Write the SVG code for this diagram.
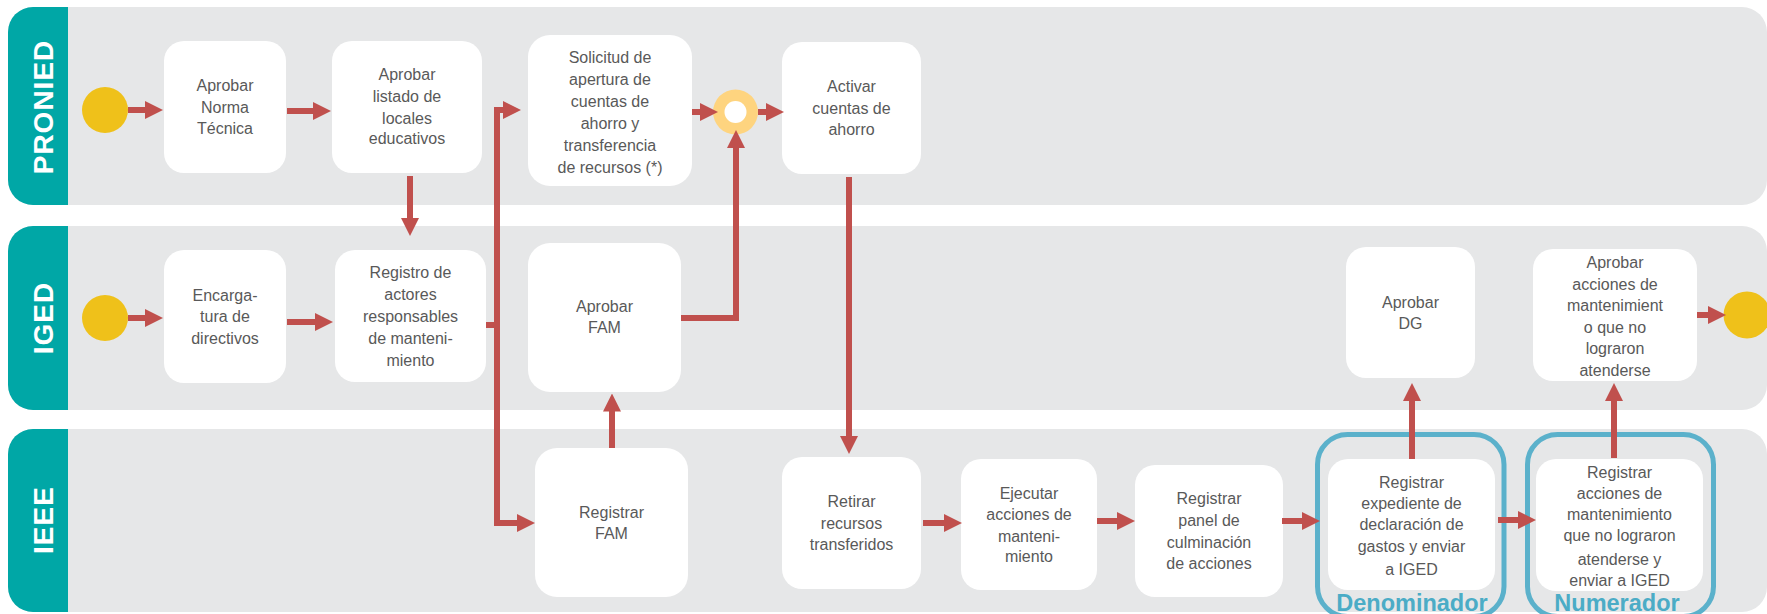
<svg xmlns="http://www.w3.org/2000/svg" width="1767" height="614" viewBox="0 0 1767 614">
<style>
.lane{fill:#E6E7E8}
.band{fill:#00A7A6}
.lbl{font-family:"Liberation Sans",Arial,sans-serif;font-weight:bold;font-size:28px;letter-spacing:1px;fill:#FFFFFF;text-anchor:middle}
.box{fill:#FFFFFF}
.t{font-family:"Liberation Sans",Arial,sans-serif;font-size:16px;fill:#595959;text-anchor:middle}
.ev{fill:#EFC11A}
.con{fill:none;stroke:#C0504D;stroke-width:6;marker-end:url(#ah)}
.frame{fill:none;stroke:#5BB1CB;stroke-width:5}
.ft{font-family:"Liberation Sans",Arial,sans-serif;font-weight:bold;font-size:23.5px;fill:#4BACC6;text-anchor:middle}
</style>
<defs>
<marker id="ah" viewBox="0 0 18 18" refX="8" refY="9" markerWidth="18" markerHeight="18" markerUnits="userSpaceOnUse" orient="auto">
<path d="M0,0 L18,9 L0,18 Z" fill="#C0504D"/>
</marker>
</defs>
<rect width="1767" height="614" fill="#FFFFFF"/>

<g id="lane-pronied">
<rect class="lane" x="8" y="7" width="1759" height="198" rx="25"/>
<path class="band" d="M68,7 H33 A25,25 0 0 0 8,32 V180 A25,25 0 0 0 33,205 H68 Z"/>
<text class="lbl" transform="translate(53,107) rotate(-90)">PRONIED</text>
</g>
<g id="lane-iged">
<rect class="lane" x="8" y="226" width="1759" height="184" rx="25"/>
<path class="band" d="M68,226 H33 A25,25 0 0 0 8,251 V385 A25,25 0 0 0 33,410 H68 Z"/>
<text class="lbl" transform="translate(53,318) rotate(-90)">IGED</text>
</g>
<g id="lane-ieee">
<rect class="lane" x="8" y="429" width="1759" height="183" rx="25"/>
<path class="band" d="M68,429 H33 A25,25 0 0 0 8,454 V587 A25,25 0 0 0 33,612 H68 Z"/>
<text class="lbl" transform="translate(53,520) rotate(-90)">IEEE</text>
</g>

<g id="start-pronied"><circle class="ev" cx="105" cy="110" r="23"/></g>
<g id="start-iged"><circle class="ev" cx="105" cy="318" r="23"/></g>
<g id="end-iged"><circle class="ev" cx="1747" cy="315" r="23.5"/></g>
<g id="gateway">
<circle cx="735.5" cy="112" r="22.5" fill="#FED47F"/>
<circle cx="735.5" cy="112" r="11" fill="#FFFFFF"/>
</g>

<g id="n-norma">
<rect class="box" x="164" y="41" width="122" height="132" rx="20"/>
<text class="t"><tspan x="225" y="91">Aprobar</tspan><tspan x="225" y="112.5">Norma</tspan><tspan x="225" y="134">Técnica</tspan></text>
</g>
<g id="n-listado">
<rect class="box" x="332" y="41" width="150" height="132" rx="20"/>
<text class="t"><tspan x="407" y="80">Aprobar</tspan><tspan x="407" y="102">listado de</tspan><tspan x="407" y="123.5">locales</tspan><tspan x="407" y="144">educativos</tspan></text>
</g>
<g id="n-solicitud">
<rect class="box" x="528" y="35" width="164" height="151" rx="22"/>
<text class="t"><tspan x="610" y="63">Solicitud de</tspan><tspan x="610" y="85">apertura de</tspan><tspan x="610" y="107">cuentas de</tspan><tspan x="610" y="129">ahorro y</tspan><tspan x="610" y="151">transferencia</tspan><tspan x="610" y="173">de recursos (*)</tspan></text>
</g>
<g id="n-activar">
<rect class="box" x="782" y="42" width="139" height="132" rx="20"/>
<text class="t"><tspan x="851.5" y="92">Activar</tspan><tspan x="851.5" y="114">cuentas de</tspan><tspan x="851.5" y="135">ahorro</tspan></text>
</g>
<g id="n-encargatura">
<rect class="box" x="164" y="250" width="122" height="133" rx="20"/>
<text class="t"><tspan x="225" y="300.5">Encarga-</tspan><tspan x="225" y="322">tura de</tspan><tspan x="225" y="343.5">directivos</tspan></text>
</g>
<g id="n-registro">
<rect class="box" x="335" y="250" width="151" height="132" rx="20"/>
<text class="t"><tspan x="410.5" y="278">Registro de</tspan><tspan x="410.5" y="300">actores</tspan><tspan x="410.5" y="322">responsables</tspan><tspan x="410.5" y="344">de manteni-</tspan><tspan x="410.5" y="366">miento</tspan></text>
</g>
<g id="n-aprobar-fam">
<rect class="box" x="528" y="243" width="153" height="149" rx="22"/>
<text class="t"><tspan x="604.5" y="312">Aprobar</tspan><tspan x="604.5" y="333">FAM</tspan></text>
</g>
<g id="n-aprobar-dg">
<rect class="box" x="1346" y="247" width="129" height="131" rx="20"/>
<text class="t"><tspan x="1410.5" y="308">Aprobar</tspan><tspan x="1410.5" y="329">DG</tspan></text>
</g>
<g id="n-aprobar-acciones">
<rect class="box" x="1533" y="249" width="164" height="132" rx="20"/>
<text class="t"><tspan x="1615" y="268">Aprobar</tspan><tspan x="1615" y="289.5">acciones de</tspan><tspan x="1615" y="311">mantenimient</tspan><tspan x="1615" y="332.5">o que no</tspan><tspan x="1615" y="354">lograron</tspan><tspan x="1615" y="375.5">atenderse</tspan></text>
</g>
<g id="n-registrar-fam">
<rect class="box" x="535" y="448" width="153" height="149" rx="22"/>
<text class="t"><tspan x="611.5" y="518">Registrar</tspan><tspan x="611.5" y="538.5">FAM</tspan></text>
</g>
<g id="n-retirar">
<rect class="box" x="782" y="457" width="139" height="132" rx="20"/>
<text class="t"><tspan x="851.5" y="507">Retirar</tspan><tspan x="851.5" y="529">recursos</tspan><tspan x="851.5" y="550">transferidos</tspan></text>
</g>
<g id="n-ejecutar">
<rect class="box" x="961" y="459" width="136" height="131" rx="20"/>
<text class="t"><tspan x="1029" y="498.5">Ejecutar</tspan><tspan x="1029" y="520">acciones de</tspan><tspan x="1029" y="541.5">manteni-</tspan><tspan x="1029" y="562">miento</tspan></text>
</g>
<g id="n-panel">
<rect class="box" x="1135" y="465" width="148" height="132" rx="20"/>
<text class="t"><tspan x="1209" y="504">Registrar</tspan><tspan x="1209" y="526">panel de</tspan><tspan x="1209" y="547.5">culminación</tspan><tspan x="1209" y="568.5">de acciones</tspan></text>
</g>
<g id="n-expediente">
<rect class="frame" x="1317.5" y="434.5" width="186.5" height="182" rx="30"/>
<rect class="box" x="1328" y="459" width="167" height="131" rx="20"/>
<text class="t"><tspan x="1411.5" y="487.5">Registrar</tspan><tspan x="1411.5" y="509">expediente de</tspan><tspan x="1411.5" y="530">declaración de</tspan><tspan x="1411.5" y="551.5">gastos y enviar</tspan><tspan x="1411.5" y="575">a IGED</tspan></text>
<text class="ft" x="1412" y="611">Denominador</text>
</g>
<g id="n-acciones">
<rect class="frame" x="1527.5" y="434.5" width="186" height="182" rx="30"/>
<rect class="box" x="1536" y="459" width="167" height="132" rx="20"/>
<text class="t"><tspan x="1619.5" y="477.5">Registrar</tspan><tspan x="1619.5" y="499">acciones de</tspan><tspan x="1619.5" y="520">mantenimiento</tspan><tspan x="1619.5" y="541">que no lograron</tspan><tspan x="1619.5" y="565">atenderse y</tspan><tspan x="1619.5" y="586">enviar a IGED</tspan></text>
<text class="ft" x="1617" y="611">Numerador</text>
</g>

<g id="connectors">
<path class="con" d="M128,110 H153"/>
<path class="con" d="M287,111 H321"/>
<path class="con" d="M410,176 V226"/>
<path class="con" d="M128,318 H153"/>
<path class="con" d="M287,322 H323"/>
<path class="con" d="M486,325 H497 V110 H511"/>
<path class="con" d="M497,322 V523 H525"/>
<path class="con" d="M612,448 V403.5"/>
<path class="con" d="M681,318 H736 V140"/>
<path class="con" d="M692,112 H708"/>
<path class="con" d="M758,112 H774"/>
<path class="con" d="M849,177 V444"/>
<path class="con" d="M923,523 H952"/>
<path class="con" d="M1097,521 H1125"/>
<path class="con" d="M1282,521 H1310"/>
<path class="con" d="M1412,459 V393"/>
<path class="con" d="M1498,520 H1526"/>
<path class="con" d="M1614,458 V393"/>
<path class="con" d="M1697,315 H1716"/>
</g>
</svg>
